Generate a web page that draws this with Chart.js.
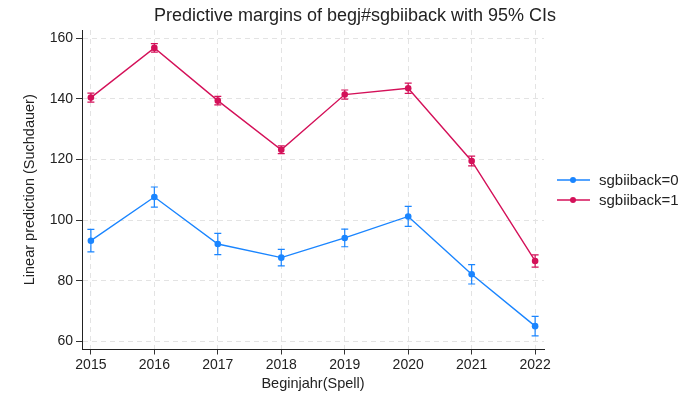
<!DOCTYPE html>
<html>
<head>
<meta charset="utf-8">
<script src="https://cdn.jsdelivr.net/npm/chart.js@4.4.1/dist/chart.umd.min.js"></script>
<style>
  html, body { margin: 0; padding: 0; background: #fff; }
  #wrap { width: 687px; height: 395px; }
</style>
</head>
<body>
<div id="wrap"><canvas id="myChart" width="687" height="395"></canvas></div>
<script>
// data
const years = [2015, 2016, 2017, 2018, 2019, 2020, 2021, 2022];
const yTicks = [60, 80, 100, 120, 140, 160];

const back0 = [93.2, 107.6, 92.1, 87.6, 94.1, 101.2, 82.1, 65.0];
const back0Lo = [89.5, 104.3, 88.6, 84.9, 91.2, 97.9, 78.9, 61.8];
const back0Hi = [96.9, 110.9, 95.6, 90.3, 97.0, 104.5, 85.3, 68.2];

const back1 = [140.4, 156.8, 139.4, 123.2, 141.4, 143.5, 119.5, 86.5];
const back1Lo = [138.9, 155.4, 138.0, 121.9, 139.9, 141.8, 117.9, 84.5];
const back1Hi = [141.9, 158.2, 140.8, 124.5, 142.9, 145.2, 121.1, 88.5];

const seriesLabels = ['sgbiiback=0', 'sgbiiback=1'];
const colors = ['#1a85ff', '#d41159'];
const titleText = 'Predictive margins of begj#sgbiiback with 95% CIs';

const FONT = '"Liberation Sans", Arial, sans-serif';

// error bars drawn through the chart's own scales
const errorBars = {
  id: 'errorBars',
  beforeDatasetsDraw(chart) {
    const { ctx, scales: { x, y } } = chart;
    chart.data.datasets.forEach((ds) => {
      ctx.save();
      ctx.strokeStyle = ds.borderColor;
      ctx.lineWidth = 1.2;
      ds.data.forEach((p, i) => {
        const px = x.getPixelForValue(p.x);
        const lo = y.getPixelForValue(ds.lower[i]);
        const hi = y.getPixelForValue(ds.upper[i]);
        ctx.beginPath();
        ctx.moveTo(px, lo); ctx.lineTo(px, hi);
        ctx.moveTo(px - 3.5, lo); ctx.lineTo(px + 3.5, lo);
        ctx.moveTo(px - 3.5, hi); ctx.lineTo(px + 3.5, hi);
        ctx.stroke();
      });
      ctx.restore();
    });
  }
};

// title (centred like the original) and legend on the right
const extras = {
  id: 'extras',
  afterDraw(chart) {
    const { ctx, chartArea } = chart;
    ctx.save();
    ctx.fillStyle = '#222';
    ctx.font = '18px ' + FONT;
    ctx.textAlign = 'center';
    ctx.textBaseline = 'middle';
    ctx.fillText(titleText, 355, 16);

    const x0 = chartArea.right + 13;
    ctx.font = '15px ' + FONT;
    ctx.textAlign = 'left';
    chart.data.datasets.forEach((ds, i) => {
      const yy = 180 + i * 20;
      ctx.strokeStyle = ds.borderColor;
      ctx.lineWidth = 1.4;
      ctx.beginPath();
      ctx.moveTo(x0, yy); ctx.lineTo(x0 + 33, yy);
      ctx.stroke();
      ctx.fillStyle = ds.borderColor;
      ctx.beginPath();
      ctx.arc(x0 + 16, yy, 3, 0, Math.PI * 2);
      ctx.fill();
      ctx.fillStyle = '#222';
      ctx.fillText(ds.label, x0 + 42, yy + 1);
    });
    ctx.restore();
  }
};

const makeSet = (label, vals, lo, hi, color) => ({
  label: label,
  data: years.map((yr, i) => ({ x: yr, y: vals[i] })),
  lower: lo,
  upper: hi,
  borderColor: color,
  backgroundColor: color,
  borderWidth: 1.4,
  pointRadius: 3.3,
  pointBorderWidth: 0,
  pointHoverRadius: 3.3,
  tension: 0,
});

const ctx = document.getElementById('myChart').getContext('2d');
new Chart(ctx, {
  type: 'line',
  data: {
    datasets: [
      makeSet(seriesLabels[0], back0, back0Lo, back0Hi, colors[0]),
      makeSet(seriesLabels[1], back1, back1Lo, back1Hi, colors[1]),
    ],
  },
  plugins: [errorBars, extras],
  options: {
    responsive: false,
    animation: false,
    events: [],
    layout: { padding: { left: 0, right: 143, top: 30, bottom: 0 } },
    plugins: {
      legend: { display: false },
      tooltip: { enabled: false },
      title: { display: false },
    },
    scales: {
      x: {
        type: 'linear',
        min: 2014.86,
        max: 2022.14,
        afterBuildTicks: (scale) => { scale.ticks = years.map((v) => ({ value: v })); },
        afterFit: (scale) => { scale.height = 45.5; },
        ticks: {
          color: '#222',
          padding: 2,
          maxRotation: 0,
          font: { family: FONT, size: 14 },
          callback: (v) => String(v),
        },
        grid: { color: '#e3e3e3', tickColor: '#333', tickLength: 5, lineWidth: 1 },
        border: { color: '#222', width: 1, dash: [5, 4] },
        title: {
          display: true,
          text: 'Beginjahr(Spell)',
          color: '#222',
          font: { family: FONT, size: 14.5 },
          padding: { top: 2, bottom: 2.3 },
        },
      },
      y: {
        type: 'linear',
        min: 57.3,
        max: 162.7,
        afterBuildTicks: (scale) => { scale.ticks = yTicks.map((v) => ({ value: v })); },
        afterFit: (scale) => { scale.width = 82; },
        ticks: {
          color: '#222',
          padding: 3,
          font: { family: FONT, size: 14 },
        },
        grid: { color: '#e3e3e3', tickColor: '#333', tickLength: 6, lineWidth: 1 },
        border: { color: '#222', width: 1, dash: [5, 4] },
        title: {
          display: true,
          text: 'Linear prediction (Suchdauer)',
          color: '#222',
          font: { family: FONT, size: 14.5 },
          padding: { top: 21.5, bottom: 4 },
        },
      },
    },
  },
});
</script>
</body>
</html>
